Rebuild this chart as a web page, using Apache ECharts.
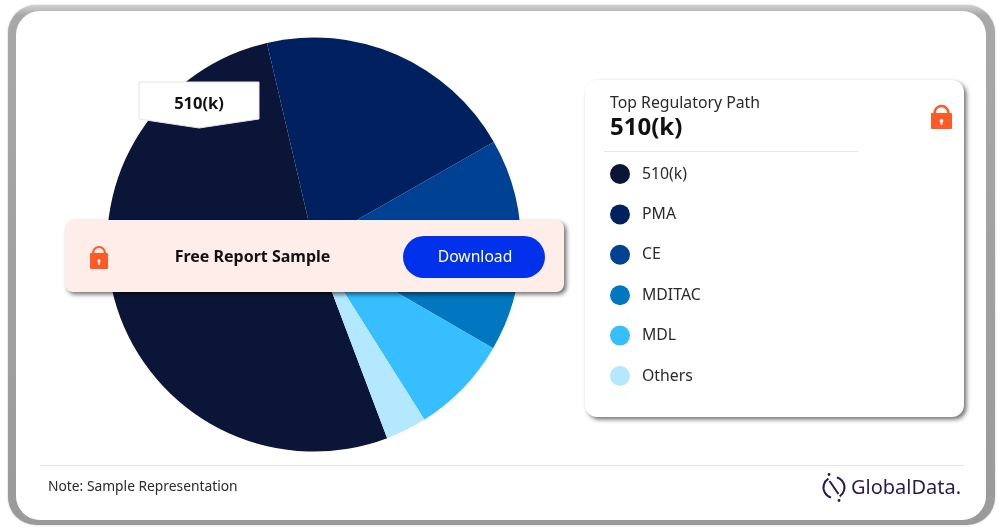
<!DOCTYPE html>
<html>
<head>
<meta charset="utf-8">
<title>Top Regulatory Path</title>
<style>
html, body { margin: 0; padding: 0; background: #fff; }
#main { width: 1003px; height: 531px; }
</style>
<script src="https://cdn.jsdelivr.net/npm/echarts@6/dist/echarts.min.js"></script>
</head>
<body>
<div id="main"></div>
<script>
var categories = ['510(k)', 'PMA', 'CE', 'MDITAC', 'MDL', 'Others'];
var shares = [52.1, 20.4, 9.0, 7.6, 7.7, 3.2];
var colors = ['#0A1538', '#002060', '#004193', '#0077C0', '#36BEFF', '#B3E8FF'];

var fontName = '"Noto Sans", sans-serif';
var textDark = '#2a2a2a';
var lockColor = '#FF5A26';

var pieData = [];
for (var i = 0; i < categories.length; i++) {
	pieData.push({ name: categories[i], value: shares[i], itemStyle: { color: colors[i] } });
}

// no stroke here: a stroke would throw its own shadow onto the fill
function card(x, y, w, h, r, fill, z) {
	return {
		type: 'rect',
		z: z,
		shape: { x: x, y: y, width: w, height: h, r: r },
		style: {
			fill: fill,
			shadowColor: 'rgba(0,0,0,0.55)',
			shadowBlur: 4,
			shadowOffsetX: 2.5,
			shadowOffsetY: 2.5
		}
	};
}

function label(text, x, y, size, weight, color, align, z) {
	return {
		type: 'text',
		z: z,
		style: {
			text: text,
			x: x,
			y: y,
			fill: color,
			font: weight + ' ' + size + 'px ' + fontName,
			align: align,
			verticalAlign: 'middle'
		}
	};
}

// small padlock, cx/cy is the middle of the whole icon
function lock(cx, cy, w, h, z) {
	var bodyH = h * 0.67;
	var bodyTop = cy + h / 2 - bodyH;
	return [
		{
			type: 'arc',
			z: z,
			shape: { cx: cx, cy: bodyTop, r: w * 0.33, startAngle: Math.PI, endAngle: 0, clockwise: true },
			style: { fill: 'none', stroke: lockColor, lineWidth: w * 0.12 }
		},
		{
			type: 'rect',
			z: z,
			shape: { x: cx - w / 2, y: bodyTop, width: w, height: bodyH, r: 1 },
			style: { fill: lockColor }
		},
		{
			type: 'circle',
			z: z + 1,
			shape: { cx: cx, cy: bodyTop + bodyH * 0.5, r: w * 0.09 },
			style: { fill: '#fff' }
		},
		{
			type: 'rect',
			z: z + 1,
			shape: { x: cx - w * 0.04, y: bodyTop + bodyH * 0.5, width: w * 0.08, height: bodyH * 0.24 },
			style: { fill: '#fff' }
		}
	];
}

var elements = [
	// outer frame
	{
		type: 'rect',
		z: 0,
		shape: { x: 8, y: 5, width: 987, height: 520, r: 28 },
		style: {
			fill: new echarts.graphic.LinearGradient(0, 0, 0, 1, [
				{ offset: 0, color: '#d0d0d0' },
				{ offset: 0.02, color: '#a8a8a8' },
				{ offset: 1, color: '#9a9a9a' }
			]),
			shadowColor: 'rgba(0,0,0,0.25)',
			shadowBlur: 2
		}
	},
	{
		type: 'rect',
		z: 0,
		shape: { x: 16, y: 11, width: 970, height: 509, r: 24 },
		style: { fill: '#ffffff' }
	},

	// right panel
	card(585, 80, 379, 337, 12, '#ffffff', 1),
	label('Top Regulatory Path', 610, 103.5, 15.8, 'normal', textDark, 'left', 3),
	label('510(k)', 610, 128, 24, 'bold', '#111111', 'left', 3),
	{
		type: 'line',
		z: 3,
		shape: { x1: 604, y1: 151.5, x2: 858, y2: 151.5 },
		style: { stroke: '#e6e6e6', lineWidth: 1 }
	},

	// callout on the biggest slice
	{
		type: 'polygon',
		z: 6,
		shape: { points: [[139, 82], [259, 82], [259, 119], [199, 128], [139, 119]] },
		style: { fill: '#ffffff', stroke: '#e4e4e4', lineWidth: 1 }
	},
	label('510(k)', 199, 104, 16.5, 'bold', '#111111', 'center', 7),

	// banner
	card(65, 220, 499, 72, 8, '#FFEDE9', 10),
	label('Free Report Sample', 252.5, 257, 16, 'bold', '#111111', 'center', 11),
	{
		type: 'rect',
		z: 11,
		shape: { x: 403, y: 236, width: 142, height: 42, r: 21 },
		style: { fill: '#0231EB' }
	},
	label('Download', 475, 257.5, 15.7, 'normal', '#ffffff', 'center', 12),

	// footer
	{
		type: 'line',
		z: 1,
		shape: { x1: 40, y1: 465.5, x2: 964, y2: 465.5 },
		style: { stroke: '#e6e6e6', lineWidth: 1 }
	},
	label('Note: Sample Representation', 48, 487, 13.8, 'normal', textDark, 'left', 3),

	// logo
	{
		type: 'arc',
		z: 3,
		shape: { cx: 834, cy: 487.5, r: 10.5, startAngle: -1.3, endAngle: 1.0, clockwise: true },
		style: { fill: 'none', stroke: '#2B1B4D', lineWidth: 2 }
	},
	{
		type: 'arc',
		z: 3,
		shape: { cx: 834, cy: 487.5, r: 10.5, startAngle: 1.85, endAngle: 4.15, clockwise: true },
		style: { fill: 'none', stroke: '#2B1B4D', lineWidth: 2 }
	},
	{
		type: 'line',
		z: 3,
		shape: { x1: 829.5, y1: 481, x2: 838.5, y2: 494 },
		style: { stroke: '#2B1B4D', lineWidth: 2 }
	},
	{ type: 'circle', z: 3, shape: { cx: 829, cy: 474.5, r: 1.4 }, style: { fill: '#2B1B4D' } },
	{ type: 'circle', z: 3, shape: { cx: 839, cy: 500.5, r: 1.4 }, style: { fill: '#2B1B4D' } },
	label('GlobalData.', 851, 488, 20, 'normal', '#2B1B4D', 'left', 3)
];

elements = elements.concat(lock(99, 257, 18, 24, 11));
elements = elements.concat(lock(941.5, 117, 21, 24, 3));

var myChart = echarts.init(document.getElementById('main'), null, { renderer: 'canvas' });

var option = {
	animation: false,
	backgroundColor: '#ffffff',
	graphic: { elements: elements },
	legend: {
		orient: 'vertical',
		left: 610,
		top: 164,
		padding: 0,
		z: 5,
		data: categories,
		icon: 'circle',
		itemWidth: 20,
		itemHeight: 20,
		itemGap: 20.4,
		selectedMode: false,
		textStyle: {
			color: textDark,
			fontFamily: fontName,
			fontSize: 15.8,
			padding: [3, 0, 0, 7]
		}
	},
	series: [
		{
			type: 'pie',
			z: 2,
			center: [314, 244.5],
			radius: [0, 207],
			startAngle: -69.3,
			clockwise: true,
			silent: true,
			label: { show: false },
			labelLine: { show: false },
			data: pieData
		}
	]
};

myChart.setOption(option);
</script>
</body>
</html>
